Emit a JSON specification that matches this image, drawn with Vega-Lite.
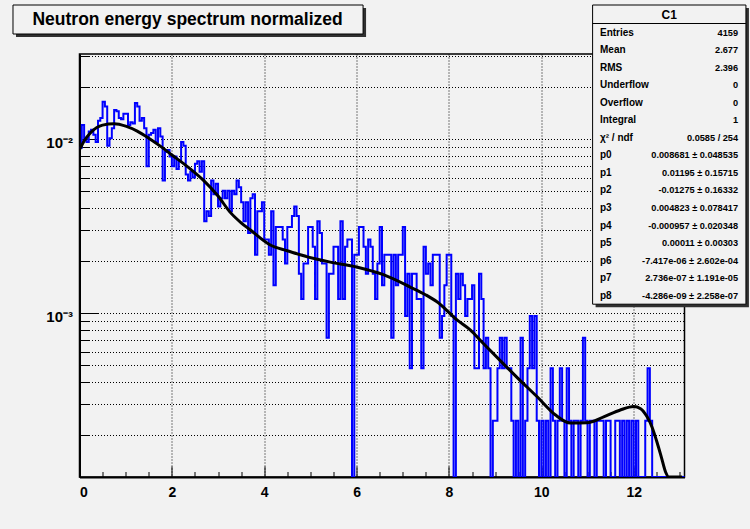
{
  "$schema": "https://vega.github.io/schema/vega-lite/v6.json",
  "width": 605,
  "height": 423,
  "autosize": "none",
  "padding": {"left": 79.5, "top": 54, "right": 65.5, "bottom": 52},
  "background": "#f2f2f2",
  "config": {
    "view": {"stroke": "#000000", "strokeWidth": 1.5, "fill": "#f2f2f2"},
    "font": "Liberation Sans"
  },
  "datasets": {
    "hist": [
      {"x":0,"y":0.008896},{"x":0.05,"y":0.012022},{"x":0.1,"y":0.010099},{"x":0.15,"y":0.009618},{"x":0.2,"y":0.01106},{"x":0.25,"y":0.011301},{"x":0.3,"y":0.01058},{"x":0.35,"y":0.009618},{"x":0.4,"y":0.012743},{"x":0.45,"y":0.013224},
      {"x":0.5,"y":0.01635},{"x":0.55,"y":0.015388},{"x":0.6,"y":0.009137},{"x":0.65,"y":0.010099},{"x":0.7,"y":0.011541},{"x":0.75,"y":0.014667},{"x":0.8,"y":0.014427},{"x":0.85,"y":0.013224},{"x":0.9,"y":0.012984},{"x":0.95,"y":0.013946},
      {"x":1.0,"y":0.013946},{"x":1.05,"y":0.012022},{"x":1.1,"y":0.012503},{"x":1.15,"y":0.012263},{"x":1.2,"y":0.01611},{"x":1.25,"y":0.015388},{"x":1.3,"y":0.012743},{"x":1.35,"y":0.013224},{"x":1.4,"y":0.011541},{"x":1.45,"y":0.006973},
      {"x":1.5,"y":0.01058},{"x":1.55,"y":0.01082},{"x":1.6,"y":0.011301},{"x":1.65,"y":0.009618},{"x":1.7,"y":0.011541},{"x":1.75,"y":0.010339},{"x":1.8,"y":0.005771},{"x":1.85,"y":0.008416},{"x":1.9,"y":0.008656},{"x":1.95,"y":0.007935},
      {"x":2.0,"y":0.006973},{"x":2.05,"y":0.007935},{"x":2.1,"y":0.006732},{"x":2.15,"y":0.007454},{"x":2.2,"y":0.009618},{"x":2.25,"y":0.009137},{"x":2.3,"y":0.006252},{"x":2.35,"y":0.005771},{"x":2.4,"y":0.006492},{"x":2.45,"y":0.006011},
      {"x":2.5,"y":0.007213},{"x":2.55,"y":0.007454},{"x":2.6,"y":0.006492},{"x":2.65,"y":0.007454},{"x":2.7,"y":0.003366},{"x":2.75,"y":0.003847},{"x":2.8,"y":0.003607},{"x":2.85,"y":0.005771},{"x":2.9,"y":0.004809},{"x":2.95,"y":0.00553},
      {"x":3.0,"y":0.004088},{"x":3.05,"y":0.004568},{"x":3.1,"y":0.005049},{"x":3.15,"y":0.004568},{"x":3.2,"y":0.005049},{"x":3.25,"y":0.003847},{"x":3.3,"y":0.005049},{"x":3.35,"y":0.004809},{"x":3.4,"y":0.005771},{"x":3.45,"y":0.00529},
      {"x":3.5,"y":0.004328},{"x":3.55,"y":0.003366},{"x":3.6,"y":0.004328},{"x":3.65,"y":0.002885},{"x":3.7,"y":0.004568},{"x":3.75,"y":0.004809},{"x":3.8,"y":0.002164},{"x":3.85,"y":0.003847},{"x":3.9,"y":0.003847},{"x":3.95,"y":0.004328},
      {"x":4.0,"y":0.002645},{"x":4.05,"y":0.002645},{"x":4.1,"y":0.002164},{"x":4.15,"y":0.003847},{"x":4.2,"y":0.001443},{"x":4.25,"y":0.003126},{"x":4.3,"y":0.003126},{"x":4.35,"y":0.003126},{"x":4.4,"y":0.002645},{"x":4.45,"y":0.001924},
      {"x":4.5,"y":0.003126},{"x":4.55,"y":0.003126},{"x":4.6,"y":0.003607},{"x":4.65,"y":0.004088},{"x":4.7,"y":0.003607},{"x":4.75,"y":0.001683},{"x":4.8,"y":0.001202},{"x":4.85,"y":0.001924},{"x":4.9,"y":0.001924},{"x":4.95,"y":0.003126},
      {"x":5.0,"y":0.003126},{"x":5.05,"y":0.002404},{"x":5.1,"y":0.001202},{"x":5.15,"y":0.003366},{"x":5.2,"y":0.002885},{"x":5.25,"y":0.001924},{"x":5.3,"y":0.001924},{"x":5.35,"y":0.000721},{"x":5.4,"y":0.001683},{"x":5.45,"y":0.001683},
      {"x":5.5,"y":0.002404},{"x":5.55,"y":0.002404},{"x":5.6,"y":0.001202},{"x":5.65,"y":0.003366},{"x":5.7,"y":0.001202},{"x":5.75,"y":0.002404},{"x":5.8,"y":0.002645},{"x":5.85,"y":0.002645},{"x":5.9,"y":0},{"x":5.95,"y":0.002164},
      {"x":6.0,"y":0.002164},{"x":6.05,"y":0.003126},{"x":6.1,"y":0.003126},{"x":6.15,"y":0.002404},{"x":6.2,"y":0.001683},{"x":6.25,"y":0.002645},{"x":6.3,"y":0.002404},{"x":6.35,"y":0.001683},{"x":6.4,"y":0.001202},{"x":6.45,"y":0.001924},
      {"x":6.5,"y":0.003126},{"x":6.55,"y":0.001443},{"x":6.6,"y":0.002164},{"x":6.65,"y":0.002164},{"x":6.7,"y":0.002164},{"x":6.75,"y":0.000721},{"x":6.8,"y":0.002164},{"x":6.85,"y":0.001443},{"x":6.9,"y":0.002164},{"x":6.95,"y":0.002164},
      {"x":7.0,"y":0.003126},{"x":7.05,"y":0.000962},{"x":7.1,"y":0.001683},{"x":7.15,"y":0.000481},{"x":7.2,"y":0.001683},{"x":7.25,"y":0.001683},{"x":7.3,"y":0.001202},{"x":7.35,"y":0.001202},{"x":7.4,"y":0.000481},{"x":7.45,"y":0.002404},
      {"x":7.5,"y":0.001683},{"x":7.55,"y":0.001924},{"x":7.6,"y":0.001443},{"x":7.65,"y":0.002164},{"x":7.7,"y":0.002164},{"x":7.75,"y":0.002164},{"x":7.8,"y":0.000721},{"x":7.85,"y":0.000962},{"x":7.9,"y":0.001443},{"x":7.95,"y":0.002164},
      {"x":8.0,"y":0.002164},{"x":8.05,"y":0.000962},{"x":8.1,"y":0},{"x":8.15,"y":0.001683},{"x":8.2,"y":0.001202},{"x":8.25,"y":0.001683},{"x":8.3,"y":0.001443},{"x":8.35,"y":0.000962},{"x":8.4,"y":0.001202},{"x":8.45,"y":0.001202},
      {"x":8.5,"y":0.001443},{"x":8.55,"y":0.000481},{"x":8.6,"y":0.000481},{"x":8.65,"y":0.001683},{"x":8.7,"y":0.001202},{"x":8.75,"y":0.000481},{"x":8.8,"y":0.000721},{"x":8.85,"y":0.000481},{"x":8.9,"y":0},{"x":8.95,"y":0.00024},
      {"x":9.0,"y":0.00024},{"x":9.05,"y":0.000481},{"x":9.1,"y":0.000721},{"x":9.15,"y":0.000481},{"x":9.2,"y":0.000721},{"x":9.25,"y":0.000481},{"x":9.3,"y":0.000481},{"x":9.35,"y":0.00024},{"x":9.4,"y":0},{"x":9.45,"y":0.00024},
      {"x":9.5,"y":0},{"x":9.55,"y":0.000721},{"x":9.6,"y":0},{"x":9.65,"y":0.00024},{"x":9.7,"y":0.000481},{"x":9.75,"y":0.000962},{"x":9.8,"y":0.000481},{"x":9.85,"y":0.000962},{"x":9.9,"y":0.00024},{"x":9.95,"y":0},
      {"x":10.0,"y":0.00024},{"x":10.05,"y":0},{"x":10.1,"y":0.00024},{"x":10.15,"y":0},{"x":10.2,"y":0.000481},{"x":10.25,"y":0.00024},{"x":10.3,"y":0},{"x":10.35,"y":0.00024},{"x":10.4,"y":0.000481},{"x":10.45,"y":0.00024},
      {"x":10.5,"y":0},{"x":10.55,"y":0.000481},{"x":10.6,"y":0.00024},{"x":10.65,"y":0},{"x":10.7,"y":0.00024},{"x":10.75,"y":0.00024},{"x":10.8,"y":0},{"x":10.85,"y":0.00024},{"x":10.9,"y":0.000721},{"x":10.95,"y":0.00024},
      {"x":11.0,"y":0},{"x":11.05,"y":0.00024},{"x":11.1,"y":0.00024},{"x":11.15,"y":0},{"x":11.2,"y":0.00024},{"x":11.25,"y":0.00024},{"x":11.3,"y":0.00024},{"x":11.35,"y":0},{"x":11.4,"y":0.00024},{"x":11.45,"y":0.00024},
      {"x":11.5,"y":0},{"x":11.55,"y":0},{"x":11.6,"y":0.00024},{"x":11.65,"y":0.00024},{"x":11.7,"y":0},{"x":11.75,"y":0.00024},{"x":11.8,"y":0},{"x":11.85,"y":0.00024},{"x":11.9,"y":0},{"x":11.95,"y":0.00024},
      {"x":12.0,"y":0},{"x":12.05,"y":0.00024},{"x":12.1,"y":0},{"x":12.15,"y":0},{"x":12.2,"y":0},{"x":12.25,"y":0.00024},{"x":12.3,"y":0.000481},{"x":12.35,"y":0.00024},{"x":12.4,"y":0},{"x":12.45,"y":0},
      {"x":12.5,"y":0},{"x":12.55,"y":0},{"x":12.6,"y":0},{"x":12.65,"y":0},{"x":12.7,"y":0},{"x":12.75,"y":0},{"x":12.8,"y":0},{"x":12.85,"y":0},{"x":12.9,"y":0},{"x":12.95,"y":0},
      {"x":13.0,"y":0},{"x":13.05,"y":0},{"x":13.1,"y":0},{"x":13.15,"y":0},{"x":13.2,"y":0}
    ],
    "fit": [
      {"x":0,"y":0.00868},{"x":0.1,"y":0.00975},{"x":0.25,"y":0.01094},{"x":0.5,"y":0.01202},{"x":0.75,"y":0.01223},{"x":1.0,"y":0.01185},{"x":1.25,"y":0.01109},{"x":1.5,"y":0.01011},{"x":1.75,"y":0.0091},{"x":2.0,"y":0.0081},
      {"x":2.35,"y":0.0069},{"x":2.68,"y":0.0058},{"x":3.0,"y":0.0047},{"x":3.26,"y":0.0038},{"x":3.5,"y":0.0033},{"x":3.7,"y":0.003},{"x":4.13,"y":0.00246},{"x":4.5,"y":0.00228},{"x":4.78,"y":0.00216},{"x":5.1,"y":0.00205},
      {"x":5.43,"y":0.00196},{"x":6.0,"y":0.00184},{"x":6.58,"y":0.00166},{"x":7.16,"y":0.00141},{"x":7.5,"y":0.00127},{"x":7.74,"y":0.00116},{"x":8.18,"y":0.00091},{"x":8.46,"y":0.0008},{"x":8.74,"y":0.00067},{"x":9.18,"y":0.00051},
      {"x":9.5,"y":0.00042},{"x":9.91,"y":0.00033},{"x":10.3,"y":0.00026},{"x":10.63,"y":0.000233},{"x":10.99,"y":0.000234},{"x":11.35,"y":0.000253},{"x":11.71,"y":0.000277},{"x":12.0,"y":0.00029},{"x":12.15,"y":0.000282},{"x":12.29,"y":0.000253},
      {"x":12.4,"y":0.00022},{"x":12.51,"y":0.000179},{"x":12.6,"y":0.000148},{"x":12.69,"y":0.000122},{"x":12.76,"y":0.000112},{"x":12.85,"y":0.00011},{"x":13.05,"y":0.00011}
    ],
    "stats": [
      {"name":"Entries","value":"4159"},
      {"name":"Mean","value":"2.677"},
      {"name":"RMS","value":"2.396"},
      {"name":"Underflow","value":"0"},
      {"name":"Overflow","value":"0"},
      {"name":"Integral","value":"1"},
      {"name":"χ² / ndf","value":"0.0585 / 254"},
      {"name":"p0","value":"0.008681 ± 0.048535"},
      {"name":"p1","value":"0.01195 ± 0.15715"},
      {"name":"p2","value":"-0.01275 ± 0.16332"},
      {"name":"p3","value":"0.004823 ± 0.078417"},
      {"name":"p4","value":"-0.000957 ± 0.020348"},
      {"name":"p5","value":"0.00011 ± 0.00303"},
      {"name":"p6","value":"-7.417e-06 ± 2.602e-04"},
      {"name":"p7","value":"2.736e-07 ± 1.191e-05"},
      {"name":"p8","value":"-4.286e-09 ± 2.258e-07"}
    ]
  },
  "layer": [
    {
      "data": {"name": "hist"},
      "mark": {"type": "line", "interpolate": "step-after", "color": "#0000ff", "strokeWidth": 2, "clip": true},
      "encoding": {
        "x": {"field": "x", "type": "quantitative",
          "scale": {"domain": [0, 13.1], "nice": false, "zero": false},
          "axis": {"orient": "bottom", "values": [0,2,4,6,8,10,12], "format": "d", "title": null,
            "labelFont": "Liberation Sans", "labelFontSize": 14, "labelFontWeight": "bold", "labelColor": "#000",
            "tickSize": -11, "tickColor": "#000", "tickWidth": 1, "labelPadding": 19,
            "domain": true, "domainColor": "#000", "domainWidth": 2,
            "grid": true, "gridColor": "#000", "gridDash": [1, 2], "gridWidth": 1, "gridOpacity": 1}},
        "y": {"field": "y", "type": "quantitative",
          "scale": {"type": "log", "domain": [0.00011416, 0.0308], "nice": false, "clamp": true},
          "axis": {"orient": "left", "values": [0.001, 0.01], "title": null,
            "labelExpr": "datum.value > 0.005 ? '10⁻²' : '10⁻³'",
            "labelFont": "Liberation Sans", "labelFontSize": 15, "labelFontWeight": "bold", "labelColor": "#000",
            "tickSize": -18, "tickColor": "#000", "tickWidth": 1, "labelPadding": 25, "labelOffset": 3,
            "domain": true, "domainColor": "#000", "domainWidth": 2, "grid": false}}
      }
    },
    {
      "data": {"name": "fit"},
      "mark": {"type": "line", "interpolate": "monotone", "color": "#000000", "strokeWidth": 3, "clip": true},
      "encoding": {
        "x": {"field": "x", "type": "quantitative",
          "scale": {"domain": [0, 13.1], "nice": false, "zero": false},
          "axis": {"orient": "bottom", "values": [0.5,1,1.5,2.5,3,3.5,4.5,5,5.5,6.5,7,7.5,8.5,9,9.5,10.5,11,11.5,12.5,13], "title": null,
            "labels": false, "domain": false, "grid": false, "tickSize": -5.5, "tickColor": "#000", "tickWidth": 1}},
        "y": {"field": "y", "type": "quantitative",
          "scale": {"type": "log", "domain": [0.00011416, 0.0308], "nice": false, "clamp": true},
          "axis": {"orient": "left", "title": null, "labels": false, "domain": false,
            "values": [0.0002,0.0003,0.0004,0.0005,0.0006,0.0007,0.0008,0.0009,0.001,0.002,0.003,0.004,0.005,0.006,0.007,0.008,0.009,0.01,0.02,0.03],
            "tickSize": -9, "tickColor": "#000", "tickWidth": 1,
            "grid": true, "gridColor": "#000", "gridDash": [1, 2], "gridWidth": 1, "gridOpacity": 1}}
      }
    },
    {
      "layer": [
        {
          "data": {"values": [{}]},
          "mark": {"type": "rect", "fill": "#303030", "xOffset": 3, "x2Offset": 3, "yOffset": -7, "y2Offset": 22, "clip": false},
          "encoding": {
            "x": {"datum": -1.44, "type": "quantitative", "axis": null},
            "x2": {"datum": 6.14},
            "y": {"datum": "C1", "type": "nominal", "axis": null,
              "scale": {"type": "point", "domain": ["C1","Entries","Mean","RMS","Underflow","Overflow","Integral","χ² / ndf","p0","p1","p2","p3","p4","p5","p6","p7","p8"], "range": [-39, 241.7], "padding": 0}},
            "y2": {"datum": "C1"}
          }
        },
        {
          "data": {"values": [{}]},
          "mark": {"type": "rect", "fill": "#f2f2f2", "stroke": "#000", "strokeWidth": 1, "yOffset": -10, "y2Offset": 19, "clip": false},
          "encoding": {
            "x": {"datum": -1.44, "type": "quantitative", "axis": null},
            "x2": {"datum": 6.14},
            "y": {"datum": "C1", "type": "nominal", "axis": null},
            "y2": {"datum": "C1"}
          }
        },
        {
          "data": {"values": [{}]},
          "mark": {"type": "text", "font": "Liberation Sans", "fontSize": 17.5, "fontWeight": "bold", "color": "#000", "align": "center", "baseline": "middle", "yOffset": 4.5},
          "encoding": {
            "x": {"datum": 2.34, "type": "quantitative", "axis": null},
            "y": {"datum": "C1", "type": "nominal", "axis": null},
            "text": {"datum": "Neutron energy spectrum normalized"}
          }
        },
        {
          "data": {"values": [{}]},
          "mark": {"type": "rect", "fill": "#303030", "xOffset": 3, "x2Offset": 3, "yOffset": -7, "y2Offset": 11.5, "clip": false},
          "encoding": {
            "x": {"datum": 11.11, "type": "quantitative", "axis": null},
            "x2": {"datum": 14.43},
            "y": {"datum": "C1", "type": "nominal", "axis": null},
            "y2": {"datum": "p8"}
          }
        },
        {
          "data": {"values": [{}]},
          "mark": {"type": "rect", "fill": "#f2f2f2", "stroke": "#000", "strokeWidth": 1, "yOffset": -10, "y2Offset": 8.5, "clip": false},
          "encoding": {
            "x": {"datum": 11.11, "type": "quantitative", "axis": null},
            "x2": {"datum": 14.43},
            "y": {"datum": "C1", "type": "nominal", "axis": null},
            "y2": {"datum": "p8"}
          }
        },
        {
          "data": {"values": [{}]},
          "mark": {"type": "rule", "color": "#000", "strokeWidth": 1, "yOffset": 8.5},
          "encoding": {
            "x": {"datum": 11.11, "type": "quantitative", "axis": null},
            "x2": {"datum": 14.43},
            "y": {"datum": "C1", "type": "nominal", "axis": null}
          }
        },
        {
          "data": {"values": [{}]},
          "mark": {"type": "text", "font": "Liberation Sans", "fontSize": 12, "fontWeight": "bold", "color": "#000", "align": "center", "baseline": "middle"},
          "encoding": {
            "x": {"datum": 12.77, "type": "quantitative", "axis": null},
            "y": {"datum": "C1", "type": "nominal", "axis": null},
            "text": {"datum": "C1"}
          }
        },
        {
          "data": {"name": "stats"},
          "mark": {"type": "text", "font": "Liberation Sans", "fontSize": 10, "fontWeight": "bold", "color": "#000", "align": "left", "baseline": "middle"},
          "encoding": {
            "x": {"datum": 11.27, "type": "quantitative", "axis": null},
            "y": {"field": "name", "type": "nominal", "axis": null},
            "text": {"field": "name"}
          }
        },
        {
          "data": {"name": "stats"},
          "mark": {"type": "text", "font": "Liberation Sans", "fontSize": 9.2, "fontWeight": "bold", "color": "#000", "align": "right", "baseline": "middle"},
          "encoding": {
            "x": {"datum": 14.26, "type": "quantitative", "axis": null},
            "y": {"field": "name", "type": "nominal", "axis": null},
            "text": {"field": "value"}
          }
        }
      ]
    }
  ],
  "resolve": {"scale": {"y": "independent"}, "axis": {"x": "independent", "y": "independent"}}
}
